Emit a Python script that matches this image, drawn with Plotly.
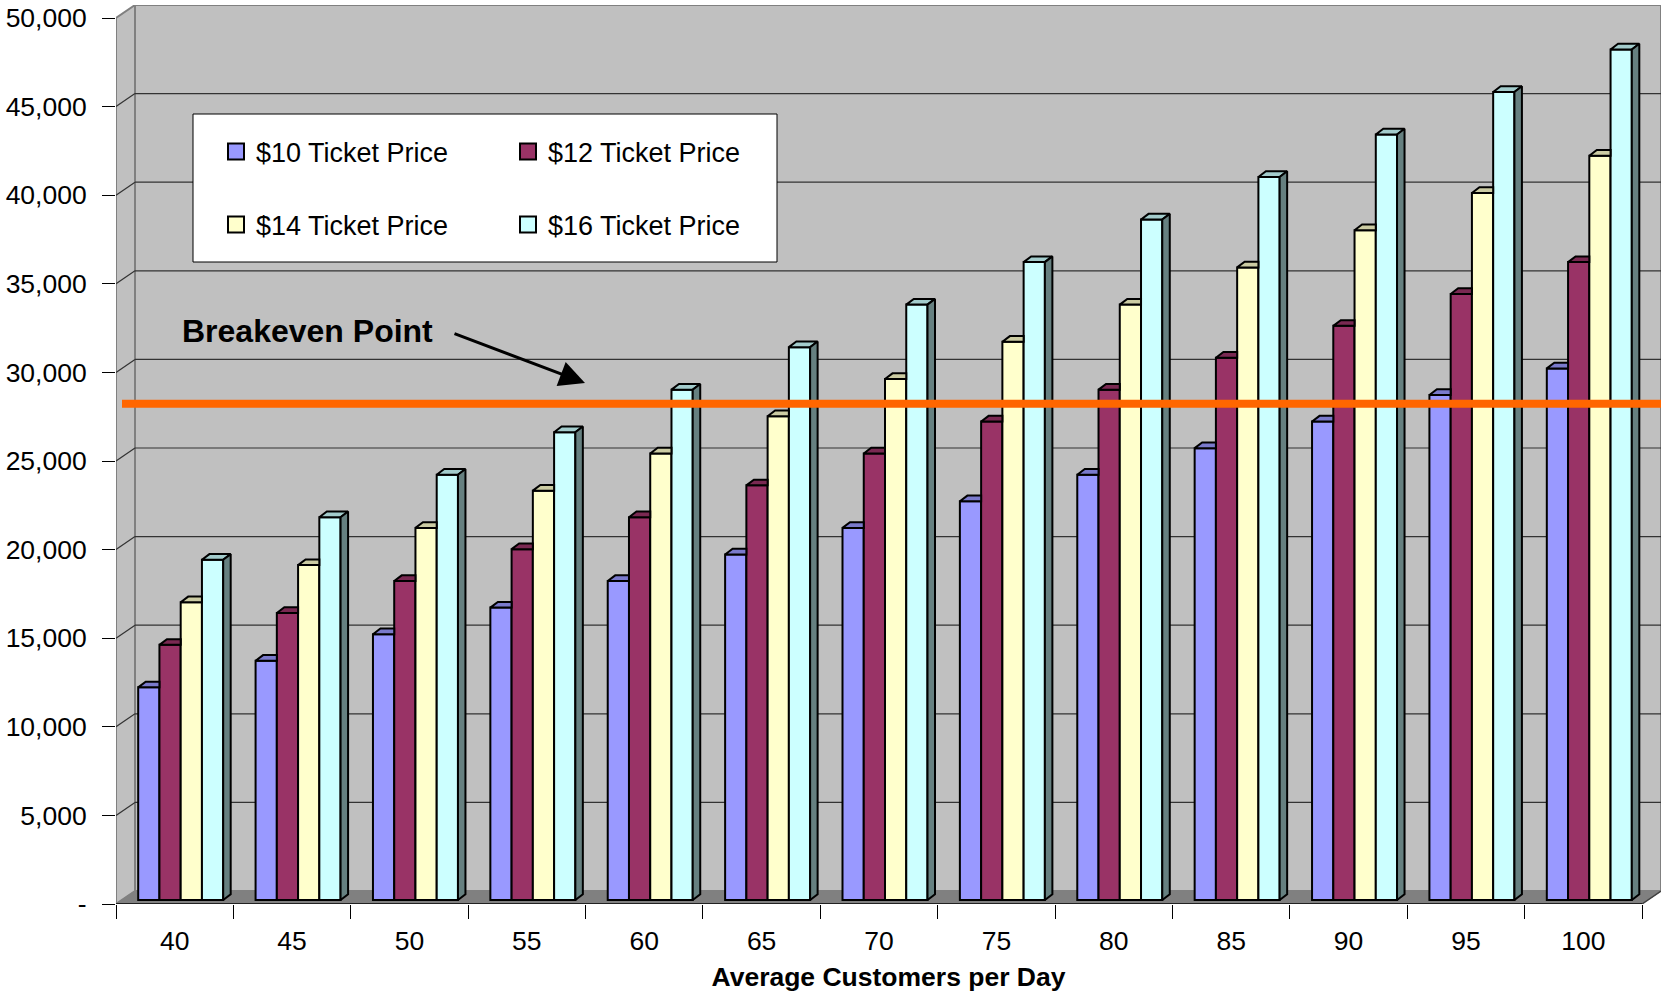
import plotly.graph_objects as go

# ---------------- data ----------------
CUSTOMERS = [40, 45, 50, 55, 60, 65, 70, 75, 80, 85, 90, 95, 100]
SERIES_NAMES = ["$10 Ticket Price", "$12 Ticket Price", "$14 Ticket Price", "$16 Ticket Price"]
T10 = [12000, 13500, 15000, 16500, 18000, 19500, 21000, 22500, 24000, 25500, 27000, 28500, 30000]
T12 = [14400, 16200, 18000, 19800, 21600, 23400, 25200, 27000, 28800, 30600, 32400, 34200, 36000]
T14 = [16800, 18900, 21000, 23100, 25200, 27300, 29400, 31500, 33600, 35700, 37800, 39900, 42000]
T16 = [19200, 21600, 24000, 26400, 28800, 31200, 33600, 36000, 38400, 40800, 43200, 45600, 48000]
BREAKEVEN = 28000
Y_TICKS = [0, 5000, 10000, 15000, 20000, 25000, 30000, 35000, 40000, 45000, 50000]
Y_TICKTEXT = ["-", "5,000", "10,000", "15,000", "20,000", "25,000", "30,000",
              "35,000", "40,000", "45,000", "50,000"]

# ---------------- styles / geometry ----------------
FACE = ["#9999FF", "#993366", "#FFFFCC", "#CCFFFF"]
TOP = ["#7A7ACC", "#7A2952", "#CCCCA3", "#A3CCCC"]
SIDE = ["#4D4D80", "#4D1A33", "#808066", "#668080"]
FONT = "Arial, 'Liberation Sans', sans-serif"

W, H = 1661, 993
ML, MR, MT, MB = 116, 0, 5, 89
STEP = CUSTOMERS[1] - CUSTOMERS[0]
X0 = CUSTOMERS[0] - STEP / 2
X_END = CUSTOMERS[-1] + STEP / 2
PX_X = 1526 / (X_END - X0)          # px per x unit
PX_Y = 886 / 50000                  # px per y unit
X_MAX = X0 + (W - ML - MR) / PX_X
Y_MAX = (H - MT - MB) / PX_Y

WALL_DX, WALL_DY = 19 / PX_X, 13 / PX_Y
SHIFT_X, SHIFT_Y = 6 / PX_X, 4 / PX_Y
BAR_W = 21.25 / PX_X
BAR_DX, BAR_DY = 7.5 / PX_X, 5.7 / PX_Y

series = [T10, T12, T14, T16]
nser = len(series)

fig = go.Figure()

# ---------------- bars (front faces) ----------------
for s, vals in enumerate(series):
    off = SHIFT_X - nser * BAR_W / 2 + s * BAR_W
    fig.add_trace(go.Bar(
        x=CUSTOMERS, y=vals, base=SHIFT_Y, offset=off, width=BAR_W,
        name=SERIES_NAMES[s], showlegend=False,
        marker=dict(color=FACE[s], line=dict(color="black", width=2)),
        hoverinfo="skip",
    ))

# ---------------- top / side faces ----------------
for s, vals in enumerate(series):
    off = SHIFT_X - nser * BAR_W / 2 + s * BAR_W
    last = (s == nser - 1)
    tx, ty, sx, sy = [], [], [], []
    for c, v in zip(CUSTOMERS, vals):
        xa = c + off
        xb = xa + BAR_W
        top = v + SHIFT_Y
        xr = xb + BAR_DX if last else xb
        tx += [xa, xa + BAR_DX, xr, xb, xa, None]
        ty += [top, top + BAR_DY, top + BAR_DY, top, top, None]
        if last:
            sx += [xb, xb + BAR_DX, xb + BAR_DX, xb, xb, None]
            sy += [SHIFT_Y, SHIFT_Y + BAR_DY, top + BAR_DY, top, SHIFT_Y, None]
    fig.add_trace(go.Scatter(x=tx, y=ty, mode="lines", fill="toself", fillcolor=TOP[s],
                             line=dict(color="black", width=2), showlegend=False,
                             hoverinfo="skip"))
    if last:
        fig.add_trace(go.Scatter(x=sx, y=sy, mode="lines", fill="toself", fillcolor=SIDE[s],
                                 line=dict(color="black", width=2), showlegend=False,
                                 hoverinfo="skip"))

# ---------------- legend entries (square swatches) ----------------
for s in range(nser):
    fig.add_trace(go.Scatter(
        x=[None], y=[None], mode="markers", name=SERIES_NAMES[s],
        marker=dict(symbol="square", size=16, color=FACE[s], line=dict(color="black", width=2)),
        legend="legend" if s < 2 else "legend2", hoverinfo="skip"))

# ---------------- breakeven line ----------------
fig.add_trace(go.Scatter(
    x=[X0 + SHIFT_X, X_MAX], y=[BREAKEVEN + SHIFT_Y, BREAKEVEN + SHIFT_Y],
    mode="lines", line=dict(color="#FF6600", width=8), showlegend=False, hoverinfo="skip"))

# ---------------- 3D walls, floor, gridlines ----------------
shapes = []
shapes.append(dict(type="rect", xref="x", yref="y", layer="below",
                   x0=X0 + WALL_DX, x1=X_MAX, y0=WALL_DY, y1=Y_MAX,
                   fillcolor="#C0C0C0", line=dict(color="#808080", width=2)))
shapes.append(dict(type="path", xref="x", yref="y", layer="below",
                   path=f"M{X0},0 L{X0 + WALL_DX},{WALL_DY} L{X0 + WALL_DX},{Y_MAX} L{X0},{Y_TICKS[-1]} Z",
                   fillcolor="#C0C0C0", line=dict(color="#808080", width=2)))
shapes.append(dict(type="path", xref="x", yref="y", layer="below",
                   path=f"M{X0},0 L{X_END},0 L{X_END + WALL_DX},{WALL_DY} L{X0 + WALL_DX},{WALL_DY} Z",
                   fillcolor="#808080", line=dict(color="#808080", width=1)))
shapes.append(dict(type="line", xref="x", yref="y", layer="below",
                   x0=X_END, y0=0, x1=X_END + WALL_DX, y1=WALL_DY,
                   line=dict(color="#404040", width=1.5)))
for v in Y_TICKS[1:-1]:
    shapes.append(dict(type="line", xref="x", yref="y", layer="below",
                       x0=X0 + WALL_DX, x1=X_MAX, y0=v + WALL_DY, y1=v + WALL_DY,
                       line=dict(color="#333333", width=1.2)))
    shapes.append(dict(type="line", xref="x", yref="y", layer="below",
                       x0=X0, x1=X0 + WALL_DX, y0=v, y1=v + WALL_DY,
                       line=dict(color="#333333", width=1.2)))
shapes.append(dict(type="line", xref="x", yref="y", layer="below",
                   x0=X0, x1=X_END, y0=0, y1=0, line=dict(color="black", width=1.5)))


def px_to_paper_x(px):
    return (px - ML) / (W - ML - MR)


def px_to_paper_y(py):
    return (H - MB - py) / (H - MT - MB)


shapes.append(dict(type="rect", xref="paper", yref="paper", layer="above",
                   x0=px_to_paper_x(193), x1=px_to_paper_x(777),
                   y0=px_to_paper_y(262), y1=px_to_paper_y(114),
                   fillcolor="white", line=dict(color="black", width=1)))

bounds = [c - STEP / 2 for c in CUSTOMERS] + [X_END]

legend_common = dict(orientation="h", xanchor="left", yanchor="middle",
                     bgcolor="rgba(0,0,0,0)", entrywidth=247, itemsizing="trace",
                     font=dict(size=27, family=FONT), itemwidth=30)

fig.update_layout(
    width=W, height=H,
    margin=dict(l=ML, r=MR, t=MT, b=MB, pad=0),
    paper_bgcolor="white", plot_bgcolor="white",
    barmode="overlay",
    font=dict(family=FONT, size=26, color="black"),
    shapes=shapes,
    xaxis=dict(range=[X0, X_MAX], tickmode="array", tickvals=CUSTOMERS,
               ticktext=[str(c) for c in CUSTOMERS], ticks="", showgrid=False,
               zeroline=False, showline=False, ticklabelstandoff=18,
               tickfont=dict(size=26.5),
               minor=dict(tickmode="array", tickvals=bounds, ticks="outside",
                          ticklen=14, tickcolor="black", tickwidth=1, showgrid=False),
               title=dict(text="<b>Average Customers per Day</b>", font=dict(size=26.5),
                          standoff=12)),
    yaxis=dict(range=[0, Y_MAX], tickmode="array", tickvals=Y_TICKS, ticktext=Y_TICKTEXT,
               ticks="outside", ticklen=13, tickcolor="black", tickwidth=1,
               showgrid=False, zeroline=False, showline=False, ticklabelstandoff=10,
               tickfont=dict(size=26.5)),
    legend=dict(x=px_to_paper_x(216), y=px_to_paper_y(152), **legend_common),
    legend2=dict(x=px_to_paper_x(216), y=px_to_paper_y(225), **legend_common),
    annotations=[
        dict(text="<b>Breakeven Point</b>", xref="paper", yref="paper",
             x=px_to_paper_x(180), y=px_to_paper_y(331), xanchor="left", yanchor="middle",
             showarrow=False, font=dict(size=32, family=FONT)),
        dict(text="", xref="paper", yref="paper",
             x=px_to_paper_x(585), y=px_to_paper_y(383),
             ax=453 - 585, ay=333 - 383, showarrow=True,
             arrowhead=2, arrowsize=1.7, arrowwidth=3, arrowcolor="black"),
    ],
)

fig.write_html("out.html", config={"displayModeBar": False},
               post_script="document.body.style.margin='0';document.body.style.overflow='hidden';")
